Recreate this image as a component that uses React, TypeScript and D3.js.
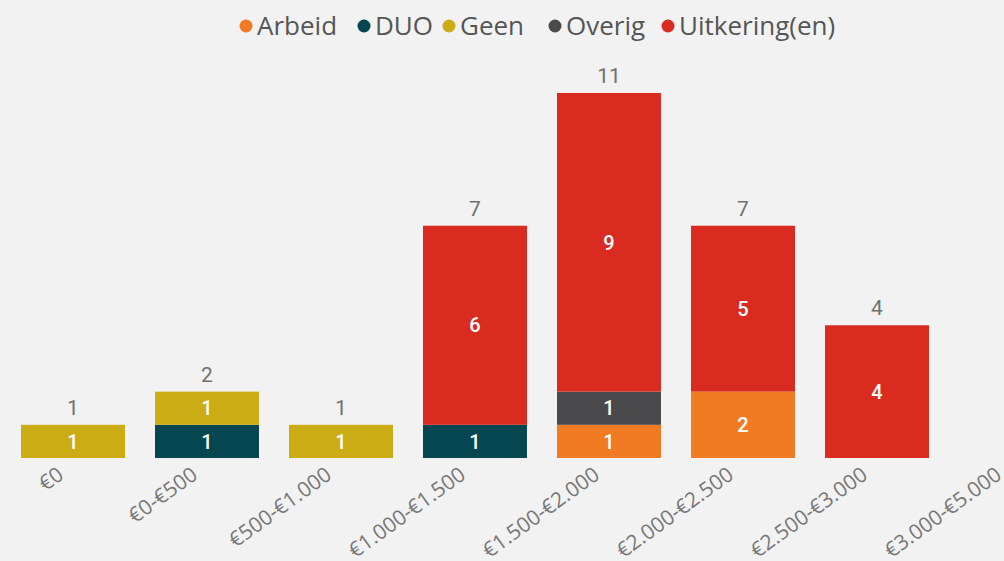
import React from "react";
import * as d3 from "d3";

const categories = ["€0", "€0-€500", "€500-€1.000", "€1.000-€1.500", "€1.500-€2.000", "€2.000-€2.500", "€2.500-€3.000", "€3.000-€5.000"];
const seriesNames = ["Arbeid", "DUO", "Geen", "Overig", "Uitkering(en)"];
const seriesColors = ["#F07B23", "#064650", "#CCAC14", "#4A4A4C", "#D92B20"];
const arbeid = [0, 0, 0, 0, 1, 2, 0, 0];
const duo = [0, 1, 0, 1, 0, 0, 0, 0];
const geen = [1, 1, 1, 0, 0, 0, 0, 0];
const overig = [0, 0, 0, 0, 1, 0, 0, 0];
const uitkering = [0, 0, 0, 6, 9, 5, 4, 0];

const W = 1004, H = 561;

export default function App() {
  const values = [arbeid, duo, geen, overig, uitkering];
  const rows = categories.map((c, i) => {
    const r: any = { cat: c };
    seriesNames.forEach((s, k) => (r[s] = values[k][i]));
    return r;
  });
  const stack = d3.stack<any>().keys(seriesNames)(rows);
  const step = 134;
  const pad = 0.224;
  const x = d3
    .scaleBand()
    .domain(categories)
    .range([21 - (step * pad) / 2, 21 - (step * pad) / 2 + step * 8])
    .paddingInner(pad)
    .paddingOuter(pad / 2);
  const bw = x.bandwidth();
  const y = d3.scaleLinear().domain([0, 11]).range([458, 93]);
  const totals = categories.map((_, i) => values.reduce((a, v) => a + v[i], 0));

  const legendX = [246, 364, 449, 555, 668];

  return (
    <svg width={W} height={H} style={{ position: "absolute", left: 0, top: 0, background: "#F2F2F2" }}>
      <rect x={0} y={0} width={W} height={H} fill="#F2F2F2" />
      {seriesNames.map((s, k) => (
        <g key={s}>
          <circle cx={legendX[k]} cy={26} r={6.5} fill={seriesColors[k]} />
          <text x={legendX[k] + 11} y={26} dy="0.36em" fontFamily="Open Sans, sans-serif" fontSize={26} fill="#555">{s}</text>
        </g>
      ))}
      {stack.map((layer, k) => (
        <g key={layer.key}>
          {layer.map((d: any, i: number) => {
            const v = d[1] - d[0];
            if (v <= 0) return null;
            const cx = x(categories[i]) as number;
            return (
              <g key={i}>
                <rect x={cx} y={y(d[1])} width={bw} height={y(d[0]) - y(d[1])} fill={seriesColors[k]} />
                <text x={cx + bw / 2} y={(y(d[0]) + y(d[1])) / 2} dy="0.36em" textAnchor="middle" fontFamily="Roboto, sans-serif" fontWeight={500} fontSize={20} fill="#fff">{v}</text>
              </g>
            );
          })}
        </g>
      ))}
      {categories.map((c, i) =>
        totals[i] > 0 ? (
          <text key={c} x={(x(c) as number) + bw / 2} y={y(totals[i]) - 10} textAnchor="middle" fontFamily="Roboto, sans-serif" fontSize={21} fill="#707070">{totals[i]}</text>
        ) : null
      )}
      {categories.map((c) => {
        const cx = (x(c) as number) + bw / 2 - 18;
        const cy = 464;
        return (
          <text key={c} transform={`translate(${cx},${cy}) rotate(-36)`} textAnchor="end" dy="0.8em" fontFamily="Open Sans, sans-serif" fontSize={21} fill="#777">{c}</text>
        );
      })}
    </svg>
  );
}
